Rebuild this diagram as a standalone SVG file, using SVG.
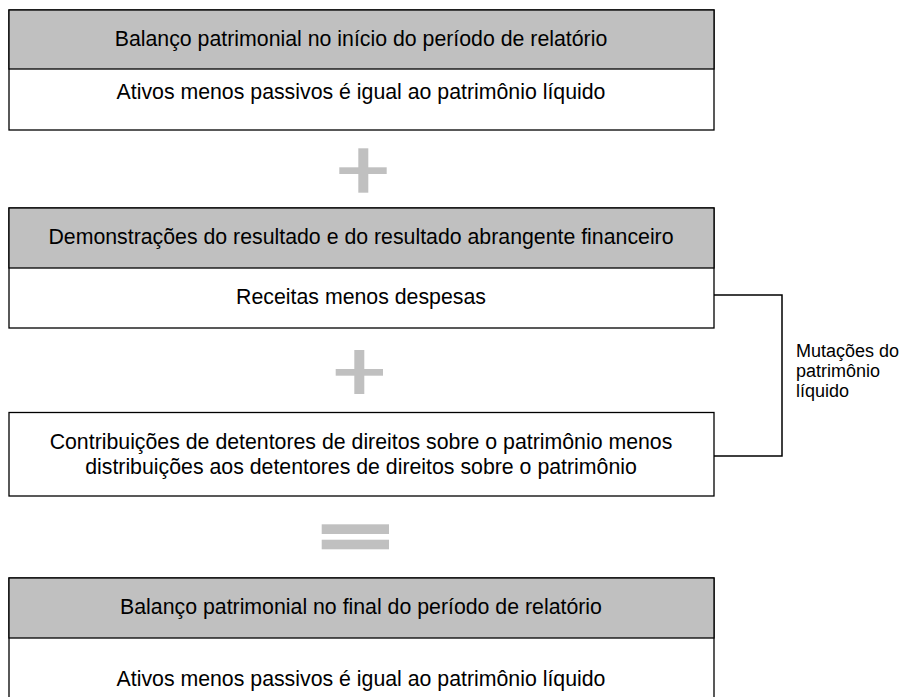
<svg xmlns="http://www.w3.org/2000/svg" width="902" height="697" viewBox="0 0 902 697">
<style>
.box{fill:#fff;stroke:#000;stroke-width:1.3}
.hdr{fill:#c0c0c0;stroke:#000;stroke-width:1.3}
.t{font-family:"Liberation Sans",Arial,sans-serif;font-size:21.3px;fill:#000;text-anchor:middle}
.lbl{font-family:"Liberation Sans",Arial,sans-serif;font-size:18px;fill:#000}
.op{fill:#c0c0c0}
.conn{fill:none;stroke:#000;stroke-width:1.5}
</style>
<rect width="902" height="697" fill="#fff"/>
<g id="node-inicio">
<rect class="box" x="9" y="10" width="705" height="120"/>
<rect class="hdr" x="9" y="10" width="705" height="59"/>
<text class="t" x="361" y="46">Balanço patrimonial no início do período de relatório</text>
<text class="t" x="361" y="99">Ativos menos passivos é igual ao patrimônio líquido</text>
</g>
<g id="op-plus1">
<rect class="op" x="358.3" y="148.3" width="10" height="44.4"/>
<rect class="op" x="339.3" y="167.3" width="47.4" height="6.7"/>
</g>
<g id="node-resultado">
<rect class="box" x="9" y="208" width="705" height="120"/>
<rect class="hdr" x="9" y="208" width="705" height="60"/>
<text class="t" x="361" y="244">Demonstrações do resultado e do resultado abrangente financeiro</text>
<text class="t" x="361" y="304">Receitas menos despesas</text>
</g>
<g id="op-plus2">
<rect class="op" x="354.3" y="350" width="10" height="44"/>
<rect class="op" x="335.7" y="369" width="47.3" height="6.7"/>
</g>
<g id="node-contribuicoes">
<rect class="box" x="9" y="412.5" width="705" height="83.5"/>
<text class="t" x="361" y="449">Contribuições de detentores de direitos sobre o patrimônio menos</text>
<text class="t" x="361" y="474">distribuições aos detentores de direitos sobre o patrimônio</text>
</g>
<g id="op-equals">
<rect class="op" x="321.7" y="524.3" width="67.3" height="9.7"/>
<rect class="op" x="321.7" y="539.7" width="67.3" height="9.6"/>
</g>
<g id="node-final">
<rect class="box" x="9" y="578" width="705" height="125"/>
<rect class="hdr" x="9" y="578" width="705" height="60"/>
<text class="t" x="361" y="614">Balanço patrimonial no final do período de relatório</text>
<text class="t" x="361" y="686">Ativos menos passivos é igual ao patrimônio líquido</text>
</g>
<g id="connectors">
<polyline class="conn" points="714,295 782,295 782,456 714,456"/>
</g>
<g id="label-mutacoes">
<text class="lbl" x="796" y="357">Mutações do</text>
<text class="lbl" x="796" y="377">patrimônio</text>
<text class="lbl" x="796" y="397">líquido</text>
</g>
</svg>
